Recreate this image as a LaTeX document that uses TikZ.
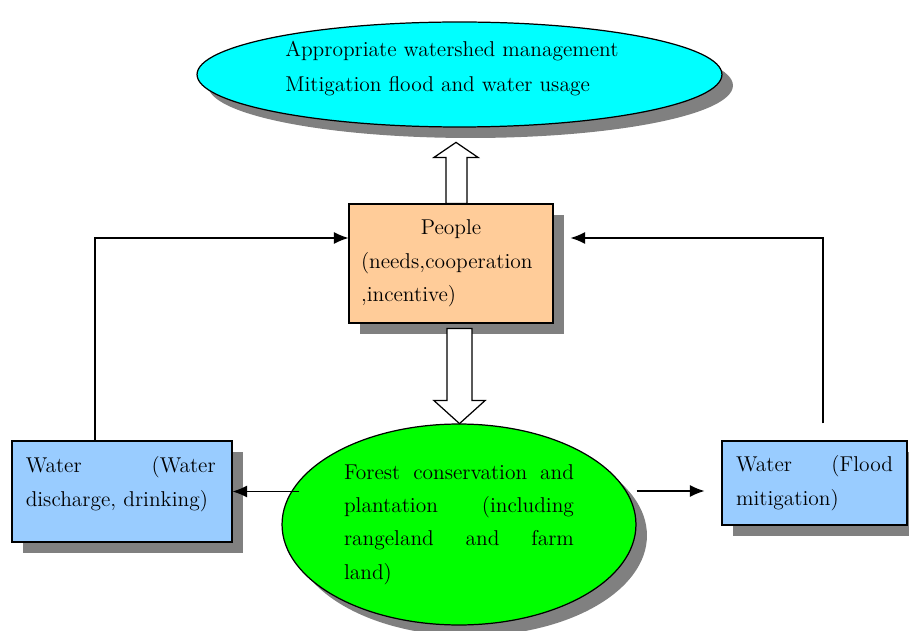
\documentclass[tikz,border=0pt]{standalone}
\usepackage{fontspec}
\usepackage{tikz}
\usetikzlibrary{shapes,arrows.meta,shadows,calc}
\definecolor{goalcyan}{HTML}{00FFFF}
\definecolor{peach}{HTML}{FFCC99}
\definecolor{waterblue}{HTML}{99CCFF}
\definecolor{forestgreen}{HTML}{00FF00}
\definecolor{shadowgray}{HTML}{808080}

\begin{document}
\begin{tikzpicture}[x=0.02cm, y=-0.02cm,
	txt/.style={font=\fontsize{12.2}{19}\selectfont},
	shade/.style={drop shadow={shadow xshift=0.22cm, shadow yshift=-0.22cm, fill=shadowgray, opacity=1}},
	oval/.style={ellipse, draw, line width=0.7pt, inner sep=0, shade},
	block/.style={rectangle, draw, line width=0.7pt, inner sep=0, shade, txt},
	flow/.style={-{Latex[length=0.29cm,width=0.24cm]}, line width=0.6pt},
	hollow/.style={draw, fill=white, line width=0.7pt, line join=miter}
]
\useasboundingbox (0,0) rectangle (909,631);

\node[oval, fill=goalcyan, minimum width=10.5cm, minimum height=2.1cm] (goal) at (459.5,74.5) {};
\node[txt, align=left, anchor=west, inner sep=0, font=\fontsize{12.2}{20}\selectfont] (goaltext) at ([shift={(-174.5,-6)}]goal.center) {Appropriate watershed management\\Mitigation flood and water usage};

\node[block, fill=peach, minimum width=4.08cm, minimum height=2.38cm, text width=3.6cm, align=left] (people) at (451,263.5) {\hfill People\hfill\null\\(needs,cooperation\\,incentive)};

\node[oval, txt, fill=forestgreen, minimum width=7.08cm, minimum height=4.02cm, text width=4.6cm, align=left] (forest) at (459,524.5) {Forest\hfill conservation\hfill and\\plantation\hfill (including\\rangeland\hfill and\hfill farm\\land)};

\node[block, fill=waterblue, minimum width=4.4cm, minimum height=2.02cm] (waterL) at (122,491.5) {};
\node[txt, text width=3.8cm, align=left, anchor=west, inner sep=0] (waterLtext) at ([shift={(14,-7.5)}]waterL.west) {Water\hfill (Water\\discharge, drinking)};

\node[block, fill=waterblue, minimum width=3.7cm, minimum height=1.68cm, text width=3.14cm, align=left] (waterR) at (814.5,483) {Water\hfill (Flood\\mitigation)};

\draw[hollow] ([shift={(-5,0)}]people.north) -- ++(0,-46) -- ++(-12,0) -- ++(22,-15) -- ++(22,15) -- ++(-11,0) -- ++(0,46) -- cycle;
\draw[hollow] ([shift={(-4,5)}]people.south) -- ++(0,72) -- ++(-13,0) -- ++(25.5,23) -- ++(25.5,-23) -- ++(-13,0) -- ++(0,-72) -- cycle;

\draw[flow] ([shift={(-27,0)}]waterL.north) |- ([shift={(0,-25.5)}]people.west);
\draw[flow] ([shift={(8.5,-17)}]waterR.north) |- ([shift={(17,-25.5)}]people.east);
\draw[flow] ($(forest.west |- waterL.east)+(18,0)$) -- (waterL.east);
\draw[flow] ($(forest.east)+(0,-33.5)$) -- ($(waterR.west)+(-17,8)$);
\end{tikzpicture}
\end{document}
